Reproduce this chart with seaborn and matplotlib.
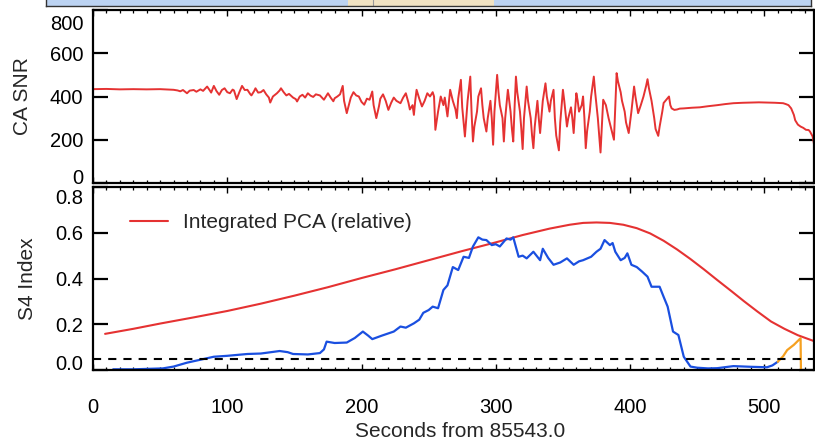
import matplotlib

matplotlib.use("Agg")

import matplotlib.pyplot as plt
import matplotlib.transforms as mtransforms
import numpy as np
import seaborn as sns
from matplotlib.ticker import MultipleLocator

# 顶部面板：CA SNR（读图估计，(秒, 数值)）
snr_points = [
    (0, 434), (10, 435), (20, 433), (30, 434), (40, 433), (50, 434), (60, 431), (63, 428),
    (65, 424), (67, 430), (70, 415), (72, 427), (75, 430), (77, 422), (80, 433), (82, 426),
    (85, 446), (87, 428), (88, 418), (90, 449), (92, 425), (94, 408), (96, 430), (98, 438),
    (100, 420), (102, 415), (104, 432), (105, 428), (107, 388), (109, 420), (111, 449),
    (113, 430), (115, 431), (117, 412), (118, 405), (120, 425), (121, 438), (123, 418),
    (125, 420), (127, 430), (129, 410), (131, 395), (132, 372), (134, 400), (137, 415),
    (139, 428), (140, 438), (142, 420), (144, 405), (146, 412), (149, 395), (151, 388),
    (152, 377), (154, 400), (156, 408), (158, 395), (160, 415), (162, 404), (164, 398),
    (166, 410), (169, 405), (171, 392), (172, 385), (174, 405), (175, 415), (177, 395),
    (179, 378), (180, 392), (182, 400), (184, 410), (186, 449), (187, 380), (189, 323),
    (191, 370), (192, 395), (194, 420), (196, 405), (198, 400), (200, 375), (202, 362),
    (204, 390), (206, 385), (208, 423), (209, 360), (211, 300), (213, 355), (214, 390),
    (216, 410), (218, 380), (220, 338), (222, 370), (224, 395), (226, 380), (229, 369),
    (231, 395), (233, 415), (235, 370), (236, 340), (238, 360), (239, 315), (240, 380),
    (241, 431), (243, 390), (245, 354), (247, 380), (249, 415), (251, 400), (253, 420),
    (254, 400), (255, 246), (257, 330), (259, 400), (261, 360), (262, 395), (264, 308),
    (266, 431), (268, 380), (270, 340), (271, 300), (272, 390), (274, 477), (275, 350),
    (277, 215), (279, 380), (281, 492), (282, 320), (283, 192), (284, 260), (286, 330),
    (287, 400), (289, 438), (290, 360), (291, 300), (293, 238), (294, 300), (296, 380),
    (297, 300), (298, 177), (299, 330), (301, 500), (302, 420), (303, 360), (305, 300),
    (306, 192), (307, 300), (309, 431), (311, 330), (312, 250), (313, 192), (314, 350),
    (315, 492), (316, 420), (318, 330), (319, 250), (320, 157), (321, 300), (323, 446),
    (324, 380), (326, 300), (327, 220), (328, 161), (329, 260), (331, 380), (332, 300),
    (333, 231), (335, 380), (337, 461), (338, 400), (340, 330), (341, 380), (343, 431),
    (344, 300), (345, 220), (347, 151), (348, 280), (350, 431), (351, 380), (353, 261),
    (354, 300), (356, 350), (357, 300), (358, 231), (359, 330), (360, 415), (361, 380),
    (362, 330), (364, 360), (365, 400), (366, 300), (367, 161), (368, 240), (370, 330),
    (371, 400), (373, 492), (374, 420), (376, 300), (377, 220), (378, 141), (379, 260),
    (380, 385), (382, 360), (384, 300), (386, 250), (388, 200), (389, 350), (390, 508),
    (391, 470), (393, 420), (394, 380), (396, 330), (397, 280), (399, 231), (401, 330),
    (403, 446), (404, 400), (406, 323), (408, 360), (410, 400), (412, 450), (413, 480),
    (414, 440), (416, 380), (418, 300), (419, 250), (421, 218), (422, 260), (424, 330),
    (425, 370), (427, 385), (429, 400), (430, 360), (431, 345), (433, 338), (435, 340),
    (437, 344), (440, 345), (446, 348), (452, 350), (458, 355), (465, 360), (471, 365),
    (477, 369), (484, 371), (490, 372), (496, 373), (502, 372), (508, 371), (514, 369),
    (516, 365), (518, 360), (520, 345), (522, 315), (523, 290), (525, 270), (527, 261),
    (529, 255), (531, 246), (533, 245), (534, 238), (536, 215), (537, 180), (538, 146),
]
snr_t = [p[0] for p in snr_points]
snr_v = [p[1] for p in snr_points]

# 底部面板：S4 指数（蓝）
s4_t = [15, 30, 52, 60, 70, 80, 90, 100, 115, 125, 139, 145, 149, 160, 169, 172, 174, 180,
        189, 195, 201, 205, 208, 215, 224, 229, 233, 239, 243, 246, 250, 253, 257, 261, 264,
        268, 272, 276, 280, 283, 287, 290, 293, 297, 300, 303, 308, 311, 313, 317, 320, 323,
        328, 333, 335, 339, 343, 348, 353, 358, 362, 365, 371, 375, 378, 381, 385, 387, 389,
        393, 396, 398, 401, 405, 409, 413, 416, 422, 425, 428, 432, 436, 440, 445, 450, 458,
        465, 477, 490, 502, 506, 510]
s4_v = [0.003, 0.003, 0.007, 0.015, 0.032, 0.045, 0.058, 0.062, 0.07, 0.072, 0.083, 0.078,
        0.07, 0.068, 0.074, 0.09, 0.124, 0.118, 0.12, 0.14, 0.168, 0.15, 0.135, 0.15, 0.168,
        0.19, 0.185, 0.204, 0.22, 0.25, 0.262, 0.277, 0.27, 0.35, 0.37, 0.45, 0.437, 0.495,
        0.49, 0.54, 0.58, 0.57, 0.568, 0.546, 0.55, 0.54, 0.575, 0.57, 0.58, 0.495, 0.5, 0.488,
        0.517, 0.48, 0.53, 0.49, 0.46, 0.47, 0.488, 0.46, 0.475, 0.48, 0.495, 0.517, 0.53,
        0.568, 0.546, 0.555, 0.517, 0.48, 0.49, 0.51, 0.46, 0.45, 0.43, 0.408, 0.364, 0.364,
        0.32, 0.277, 0.168, 0.153, 0.058, 0.015, 0.01, 0.007, 0.008, 0.017, 0.014, 0.012,
        0.02, 0.036]

# 末尾橙色段
tail_t = [510, 514, 517, 522, 527, 527.3]
tail_v = [0.036, 0.06, 0.087, 0.11, 0.139, -0.01]

# 积分 PCA（相对值）
pca_t = [9, 30, 50, 75, 100, 125, 150, 175, 200, 225, 250, 275, 300, 320, 340, 355, 365,
         375, 385, 395, 405, 415, 425, 435, 445, 455, 465, 475, 485, 495, 505, 515, 525, 532,
         540]
pca_v = [0.158, 0.18, 0.203, 0.23, 0.258, 0.29, 0.325, 0.362, 0.402, 0.44, 0.48, 0.52,
         0.558, 0.59, 0.618, 0.635, 0.643, 0.645, 0.643, 0.635, 0.62, 0.597, 0.565, 0.527,
         0.485, 0.44, 0.393, 0.347, 0.3, 0.255, 0.212, 0.18, 0.152, 0.137, 0.12]

s4_threshold = 0.05
strip_span = (190, 299)
strip_marker = 209

RED = "#e53232"
BLUE = "#1a4fe0"
ORANGE = "#f5a020"

sns.set_theme(style="ticks")
plt.rcParams["font.family"] = ["Liberation Sans", "DejaVu Sans"]
plt.rcParams["axes.linewidth"] = 1.6


def style_axes(ax):
    """IDL 风格：四周刻度朝内。"""
    ax.tick_params(axis="both", which="both", direction="in", top=True, right=True,
                   labelsize=14.5, colors="black")
    ax.tick_params(axis="x", which="major", length=4, width=1.0)
    ax.tick_params(axis="x", which="minor", length=2.5, width=0.9)
    ax.tick_params(axis="y", which="major", length=11, width=1.6, pad=7)
    ax.tick_params(axis="y", which="minor", length=0)
    ax.xaxis.set_major_locator(MultipleLocator(100))
    ax.xaxis.set_minor_locator(MultipleLocator(10))
    for s in ax.spines.values():
        s.set_color("black")
        s.set_linewidth(1.6)
    ax.set_xlim(0, 537)


def nudge_end_labels(ax, down_px, up_px):
    """两端的 y 刻度标签向内挪，和原图一样。"""
    labels = ax.get_yticklabels()
    dpi = ax.figure.dpi
    top = mtransforms.ScaledTranslation(0, -down_px / dpi, ax.figure.dpi_scale_trans)
    bottom = mtransforms.ScaledTranslation(0, up_px / dpi, ax.figure.dpi_scale_trans)
    labels[-1].set_transform(labels[-1].get_transform() + top)
    labels[0].set_transform(labels[0].get_transform() + bottom)


fig = plt.figure(figsize=(8.15, 4.41), dpi=100)

# 顶部被裁掉的条带
strip = fig.add_axes([46 / 815, 1 - 6 / 441, (811 - 46) / 815, 0.05])
strip.set_facecolor("#bcd3f2")
strip.axvspan(*strip_span, color="#f1e3c3", lw=0)
strip.axvline(strip_marker, color="#9a9a9a", lw=0.8)
strip.set_xlim(-35, 535)
strip.set_xticks([])
strip.set_yticks([])
for s in strip.spines.values():
    s.set_color("#333333")
    s.set_linewidth(1.0)

ax1 = fig.add_axes([93 / 815, 1 - 183 / 441, 721 / 815, 173 / 441])
ax2 = fig.add_axes([93 / 815, 1 - 370 / 441, 721 / 815, 183 / 441])

sns.lineplot(x=snr_t, y=snr_v, ax=ax1, color=RED, lw=1.4, estimator=None, sort=False)
style_axes(ax1)
ax1.set_ylim(0, 800)
ax1.set_yticks([0, 200, 400, 600, 800])
ax1.tick_params(axis="x", labelbottom=False)
ax1.set_ylabel("CA SNR", fontsize=15)
ax1.yaxis.set_label_coords(-0.085, 0.5)
nudge_end_labels(ax1, 12, 7)

sns.lineplot(x=pca_t, y=pca_v, ax=ax2, color=RED, lw=1.5, estimator=None, sort=False,
             label="Integrated PCA (relative)")
sns.lineplot(x=s4_t, y=s4_v, ax=ax2, color=BLUE, lw=1.6, estimator=None, sort=False)
sns.lineplot(x=tail_t, y=tail_v, ax=ax2, color=ORANGE, lw=1.6, estimator=None, sort=False)
ax2.axhline(s4_threshold, color="black", lw=1.5, ls=(0, (3.9, 3.4)))
style_axes(ax2)
ax2.set_ylim(0, 0.8)
ax2.set_yticks([0, 0.2, 0.4, 0.6, 0.8])
ax2.set_yticklabels(["0.0", "0.2", "0.4", "0.6", "0.8"])
ax2.tick_params(axis="x", which="major", pad=20)
ax2.set_ylabel("S4 Index", fontsize=15)
ax2.yaxis.set_label_coords(-0.078, 0.5)
ax2.set_xlabel("Seconds from 85543.0", fontsize=15)
ax2.xaxis.set_label_coords(0.509, -0.285)
nudge_end_labels(ax2, 10, 7)

ax2.legend(loc="center left", bbox_to_anchor=(0.0513, 0.805), frameon=False, fontsize=15,
           handlelength=1.84, handletextpad=0.72, borderpad=0, borderaxespad=0)

fig.savefig("out.png", dpi=100)
plt.close(fig)
